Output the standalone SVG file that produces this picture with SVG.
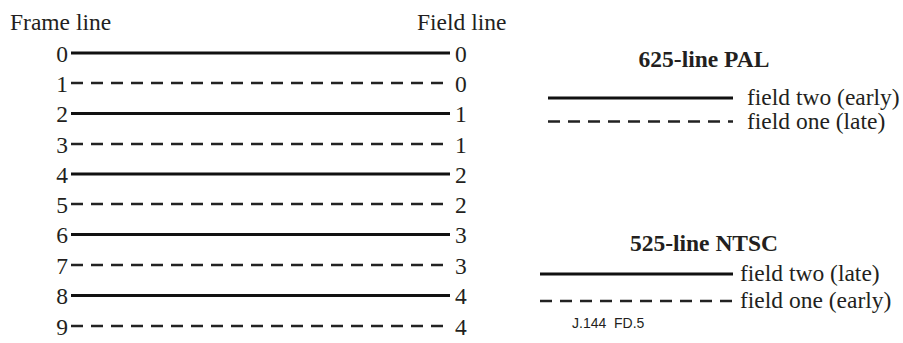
<svg xmlns="http://www.w3.org/2000/svg" width="903" height="343" viewBox="0 0 903 343">
<style>
text{font-family:"Liberation Serif","Times New Roman",serif;font-size:23.5px;fill:#231f20}
.b{font-weight:bold}
.s{font-family:"Liberation Sans",Arial,sans-serif;font-size:14px}
.l{text-anchor:end}
.solid{stroke:#111;stroke-width:3.2;fill:none}
.dash{stroke:#222;stroke-width:2.4;stroke-dasharray:12 8;fill:none}
</style>
<rect width="903" height="343" fill="#fff"/>
<g id="headers">
<text x="10" y="30">Frame line</text>
<text x="417" y="30">Field line</text>
</g>
<g id="frame-labels">
<text class="l" x="68" y="61.5">0</text>
<text class="l" x="68" y="91.5">1</text>
<text class="l" x="68" y="122">2</text>
<text class="l" x="68" y="152.5">3</text>
<text class="l" x="68" y="182.5">4</text>
<text class="l" x="68" y="212.5">5</text>
<text class="l" x="68" y="243">6</text>
<text class="l" x="68" y="273.5">7</text>
<text class="l" x="68" y="304">8</text>
<text class="l" x="68" y="334.5">9</text>
</g>
<g id="field-labels">
<text x="455" y="61.5">0</text>
<text x="455" y="91.5">0</text>
<text x="455" y="122">1</text>
<text x="455" y="152.5">1</text>
<text x="455" y="182.5">2</text>
<text x="455" y="212.5">2</text>
<text x="455" y="243">3</text>
<text x="455" y="273.5">3</text>
<text x="455" y="304">4</text>
<text x="455" y="334.5">4</text>
</g>
<g id="connectors">
<line class="solid" x1="71" y1="53" x2="450" y2="53"/>
<line class="dash" x1="71" y1="83" x2="450" y2="83"/>
<line class="solid" x1="71" y1="113.5" x2="450" y2="113.5" stroke-width="3.6"/>
<line class="dash" x1="71" y1="144" x2="450" y2="144"/>
<line class="solid" x1="71" y1="174" x2="450" y2="174"/>
<line class="dash" x1="71" y1="204" x2="450" y2="204"/>
<line class="solid" x1="71" y1="234.5" x2="450" y2="234.5" stroke-width="3.6"/>
<line class="dash" x1="71" y1="265" x2="450" y2="265"/>
<line class="solid" x1="71" y1="295.5" x2="450" y2="295.5"/>
<line class="dash" x1="71" y1="326" x2="450" y2="326"/>
</g>
<g id="legend-pal">
<text class="b" x="704" y="67" text-anchor="middle">625-line PAL</text>
<line class="solid" x1="548" y1="98" x2="733" y2="98"/>
<text x="747" y="105">field two (early)</text>
<line class="dash" x1="548" y1="121.5" x2="733" y2="121.5"/>
<text x="747" y="128.5">field one (late)</text>
</g>
<g id="legend-ntsc">
<text class="b" x="704" y="251" text-anchor="middle">525-line NTSC</text>
<line class="solid" x1="540" y1="274" x2="733" y2="274"/>
<text x="740" y="281">field two (late)</text>
<line class="dash" x1="540" y1="301" x2="736" y2="301"/>
<text x="740" y="308">field one (early)</text>
</g>
<g id="footer">
<text class="s" x="572" y="328" xml:space="preserve">J.144  FD.5</text>
</g>
</svg>
